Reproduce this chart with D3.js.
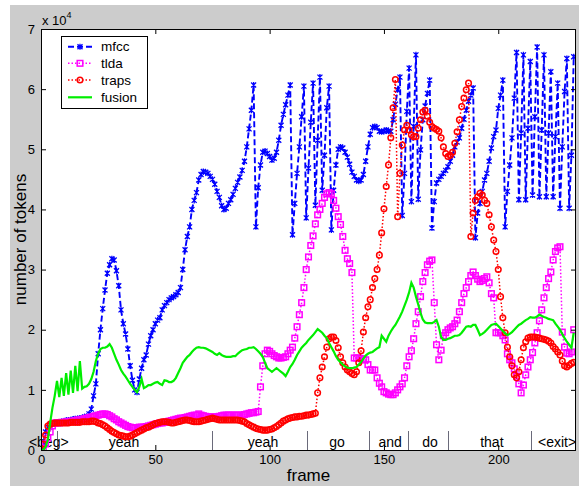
<!DOCTYPE html>
<html>
<head>
<meta charset="utf-8">
<script src="https://cdn.jsdelivr.net/npm/d3@7"></script>
<style>
body { margin: 0; background: #fff; }
svg { display: block; font-family: Arial, "Liberation Sans", sans-serif; }
</style>
</head>
<body>
<svg></svg>
<script>
// token counts per frame, in units of 10^4
var mfcc = [
  0, 0.12, 0.3, 0.38, 0.42, 0.44, 0.45, 0.46, 0.46, 0.47,
  0.48, 0.49, 0.5, 0.5, 0.51, 0.52, 0.52, 0.53, 0.53, 0.55,
  0.56, 0.6, 0.68, 0.9, 1.1, 1.6, 2.0, 2.35, 2.66, 2.94,
  3.08, 3.18, 3.16, 2.98, 2.73, 2.33, 2.1, 1.93, 1.68, 1.4,
  1.16, 1.0, 0.96, 1.18, 1.36, 1.5, 1.58, 1.76, 1.9, 2.0,
  2.1, 2.16, 2.2, 2.33, 2.4, 2.45, 2.5, 2.53, 2.55, 2.58,
  2.62, 2.7, 3.0, 3.33, 3.55, 3.71, 4.0, 4.15, 4.28, 4.49,
  4.58, 4.63, 4.62, 4.6, 4.55, 4.5, 4.42, 4.3, 4.2, 4.06,
  4.0, 4.02, 4.1, 4.16, 4.25, 4.35, 4.45, 4.54, 4.65, 4.8,
  5.04, 5.34, 5.65, 6.07, 3.71, 4.36, 4.74, 4.95, 4.97, 4.93,
  4.88, 4.82, 4.85, 4.95, 5.15, 5.4, 5.58, 5.74, 5.9, 6.07,
  3.58, 4.1, 4.6, 5.04, 5.54, 6.05, 3.86, 4.69, 5.45, 6.1,
  4.07, 5.15, 6.2, 4.32, 4.9, 5.69, 6.05, 3.66, 4.32, 4.74,
  5.0, 5.04, 5.02, 4.95, 4.87, 4.75, 4.62, 4.55, 4.49, 4.47,
  4.49, 4.58, 4.8, 5.04, 5.25, 5.36, 5.38, 5.36, 5.3, 5.29,
  5.3, 5.32, 5.3, 5.3, 5.49, 5.75, 5.99, 6.2, 3.9, 4.6,
  5.63, 6.35, 4.13, 5.38, 6.57, 4.17, 4.99, 5.49, 5.72, 5.93,
  6.15, 3.69, 4.13, 4.44, 4.5, 4.55, 4.6, 4.65, 4.71, 4.8,
  4.9, 5.04, 5.12, 5.19, 5.35, 5.5, 5.65, 5.8, 5.9, 6.02,
  3.53, 3.94, 4.1, 4.3, 4.49, 4.6, 4.8, 5.02, 5.21, 5.32,
  5.68, 5.9, 6.15, 3.71, 4.3, 4.74, 5.19, 5.85, 6.61, 4.16,
  5.27, 6.57, 4.16, 5.35, 6.46, 4.24, 5.54, 6.7, 4.21, 5.32,
  6.57, 4.21, 5.27, 6.29, 4.21, 5.21, 6.1, 4.02, 5.04, 5.96,
  6.51, 4.02, 4.9, 6.54
];
var tlda = [
  0, 0.03, 0.1, 0.2, 0.3, 0.4, 0.45, 0.45, 0.45, 0.46,
  0.46, 0.47, 0.47, 0.48, 0.48, 0.49, 0.5, 0.5, 0.51, 0.52,
  0.53, 0.54, 0.55, 0.56, 0.57, 0.58, 0.59, 0.6, 0.6, 0.59,
  0.57, 0.55, 0.52, 0.5, 0.47, 0.45, 0.43, 0.41, 0.39, 0.38,
  0.37, 0.37, 0.37, 0.38, 0.38, 0.38, 0.39, 0.4, 0.41, 0.42,
  0.43, 0.44, 0.45, 0.45, 0.46, 0.47, 0.48, 0.49, 0.5, 0.51,
  0.52, 0.53, 0.53, 0.54, 0.55, 0.56, 0.57, 0.58, 0.58, 0.6,
  0.58, 0.57, 0.56, 0.55, 0.55, 0.55, 0.55, 0.55, 0.56, 0.57,
  0.58, 0.58, 0.58, 0.58, 0.58, 0.58, 0.58, 0.58, 0.58, 0.59,
  0.6, 0.61, 0.62, 0.62, 0.63, 0.64, 1.05, 1.4, 1.6, 1.66,
  1.64, 1.6, 1.57, 1.55, 1.53, 1.53, 1.54, 1.55, 1.6, 1.66,
  1.71, 1.86, 2.05, 2.25, 2.45, 2.7, 3.0, 3.21, 3.4, 3.56,
  3.76, 3.91, 4.0, 4.1, 4.2, 4.26, 4.28, 4.26, 4.15, 4.02,
  3.88, 3.75, 3.55, 3.32, 3.18, 3.1, 2.95, 1.53, 1.53, 1.53,
  1.52, 1.5, 1.5, 1.42, 1.33, 1.33, 1.33, 1.2, 1.11, 1.05,
  0.97, 0.95, 0.93, 0.92, 0.92, 0.95, 1.0, 1.05, 1.1, 1.2,
  1.4, 1.55, 1.65, 1.85, 2.1, 2.3, 2.55, 2.8, 2.95, 3.08,
  3.14, 3.16, 2.45, 1.75, 1.5, 1.66, 1.9, 1.95, 2.0, 2.03,
  2.05, 2.1, 2.16, 2.3, 2.45, 2.6, 2.7, 2.8, 2.9, 2.96,
  2.9, 2.84, 2.8, 2.82, 2.85, 2.88, 2.78, 2.6, 2.53, 1.95,
  1.95, 1.95, 1.9, 1.83, 1.6, 1.5, 1.45, 1.35, 1.23, 1.1,
  0.95, 1.08, 1.25, 1.38, 1.5, 1.62, 1.78, 1.95, 2.15, 2.33,
  2.53, 2.7, 2.85, 2.96, 3.16, 3.3, 3.36, 3.38, 1.96, 1.71,
  1.61, 1.6, 1.63, 2.0
];
var traps = [
  0, 0.1, 0.25, 0.4, 0.43, 0.44, 0.45, 0.45, 0.45, 0.45,
  0.45, 0.45, 0.45, 0.46, 0.46, 0.46, 0.46, 0.46, 0.47, 0.47,
  0.47, 0.47, 0.48, 0.48, 0.47, 0.45, 0.44, 0.42, 0.4, 0.37,
  0.34, 0.31, 0.29, 0.27, 0.25, 0.24, 0.23, 0.22, 0.22, 0.23,
  0.25, 0.27, 0.29, 0.31, 0.33, 0.35, 0.37, 0.38, 0.4, 0.42,
  0.44, 0.45, 0.46, 0.47, 0.47, 0.47, 0.46, 0.45, 0.45, 0.46,
  0.47, 0.48, 0.49, 0.5, 0.5, 0.49, 0.48, 0.47, 0.47, 0.47,
  0.48, 0.49, 0.5, 0.51, 0.52, 0.53, 0.52, 0.51, 0.5, 0.5,
  0.5, 0.5, 0.5, 0.5, 0.5, 0.5, 0.5, 0.49, 0.48, 0.47,
  0.44, 0.42, 0.4, 0.38, 0.36, 0.35, 0.34, 0.33, 0.33, 0.33,
  0.34, 0.35, 0.37, 0.39, 0.42, 0.45, 0.48, 0.5, 0.52, 0.53,
  0.54, 0.55, 0.55, 0.56, 0.56, 0.57, 0.58, 0.58, 0.59, 0.6,
  0.61, 0.95, 1.2, 1.38, 1.55, 1.71, 1.85, 1.88, 1.88, 1.82,
  1.7, 1.55, 1.45, 1.38, 1.33, 1.3, 1.27, 1.25, 1.3, 1.45,
  1.65, 1.96, 2.2, 2.38, 2.5, 2.7, 2.85, 3.0, 3.24, 3.61,
  4.01, 4.38, 4.74, 5.19, 5.69, 6.16, 3.88, 4.6, 5.07, 5.32,
  5.4, 5.32, 5.24, 5.21, 5.21, 5.35, 5.49, 5.62, 5.65, 5.55,
  5.45, 5.38, 5.35, 5.33, 5.3, 5.19, 5.04, 4.93, 4.88, 4.9,
  4.95, 5.1, 5.29, 5.49, 5.71, 5.85, 5.99, 6.1, 3.55, 3.94,
  4.15, 4.21, 4.27, 4.24, 4.15, 4.1, 3.91, 3.71, 3.49, 3.3,
  3.0, 2.55, 2.2, 1.95, 1.71, 1.55, 1.4, 1.25, 1.2, 1.3,
  1.5, 1.7, 1.8, 1.86, 1.88, 1.88, 1.88, 1.87, 1.86, 1.85,
  1.84, 1.83, 1.81, 1.78, 1.72, 1.68, 1.63, 1.58, 1.48, 1.4,
  1.38, 1.41, 1.44, 1.46
];
var fusion = [
  0, 0, 0.05, 0.17, 0.45, 0.7, 0.9, 1.15, 0.88, 1.2,
  0.9, 1.28, 0.92, 1.32, 0.95, 1.4, 0.98, 1.48, 1.02, 1.05,
  1.06, 1.1, 1.18, 1.3, 1.48, 1.6, 1.68, 1.7, 1.7, 1.72,
  1.76, 1.7, 1.6, 1.5, 1.42, 1.33, 1.27, 1.22, 1.16, 1.1,
  1.05, 1.0, 0.96, 1.05, 1.18, 1.03, 1.05, 1.08, 1.08, 1.1,
  1.12, 1.13, 1.1, 1.08, 1.16, 1.15, 1.13, 1.13, 1.15, 1.2,
  1.28, 1.36, 1.45, 1.5, 1.55, 1.58, 1.63, 1.67, 1.7, 1.71,
  1.7, 1.7, 1.69, 1.67, 1.65, 1.63, 1.6, 1.58, 1.61, 1.58,
  1.56, 1.55, 1.55, 1.55, 1.56, 1.56, 1.6, 1.63, 1.66, 1.67,
  1.68, 1.7, 1.7, 1.71, 1.68, 1.64, 1.6, 1.55, 1.45, 1.36,
  1.33, 1.3, 1.33, 1.36, 1.33, 1.3, 1.27, 1.23, 1.3, 1.38,
  1.43, 1.5, 1.58, 1.64, 1.7, 1.74, 1.78, 1.83, 1.87, 1.91,
  1.96, 2.01, 1.98, 1.95, 1.9, 1.86, 1.78, 1.71, 1.64, 1.56,
  1.5, 1.46, 1.42, 1.39, 1.37, 1.36, 1.36, 1.37, 1.38, 1.42,
  1.46, 1.52, 1.57, 1.6, 1.62, 1.63, 1.66, 1.69, 1.71, 1.9,
  1.85, 1.8, 1.9, 1.97, 2.03, 2.08, 2.15, 2.22, 2.3, 2.4,
  2.5, 2.62, 2.78, 2.7, 2.55, 2.42, 2.28, 2.17, 2.12, 2.11,
  2.11, 2.11, 2.13, 2.16, 2.05, 1.88, 1.83, 1.83, 1.85, 1.86,
  1.88, 1.9, 1.9, 1.91, 1.95, 2.0, 2.05, 2.06, 2.05, 2.08,
  2.08, 2.0, 1.91, 1.93, 1.96, 2.0, 2.04, 2.08, 2.09, 2.1,
  2.06, 2.02, 1.98, 1.94, 1.91, 1.93, 1.96, 2.0, 2.04, 2.08,
  2.1, 2.13, 2.16, 2.18, 2.21, 2.2, 2.2, 2.22, 2.25, 2.23,
  2.21, 2.2, 2.18, 2.17, 2.16, 2.1, 2.05, 2.0, 1.93, 1.86,
  1.8, 1.75, 1.7, 1.95
];

// word segmentation along the bottom
var words = ['<beg>', 'yeah', 'yeah', 'go', 'and', 'do', 'that', '<exit>'];
var wordCenters = [3.4, 36.3, 97.1, 129.5, 152.7, 170.2, 197.2, 225.7];
var wordBounds = [6.9, 74.7, 116.2, 143.6, 160.7, 178.2, 214.3];

var xTicks = [0, 50, 100, 150, 200];
var yTicks = [0, 1, 2, 3, 4, 5, 6, 7];

var width = 579, height = 486;
var pLeft = 41, pRight = 576, pTop = 29, pBottom = 450;

var svg = d3.select('svg')
    .attr('width', width)
    .attr('height', height);

// MATLAB figure grey
svg.append('rect')
    .attr('x', 10).attr('y', 5)
    .attr('width', width - 10).attr('height', height - 5)
    .attr('fill', '#cccccc');

svg.append('rect')
    .attr('x', pLeft).attr('y', pTop)
    .attr('width', pRight - pLeft).attr('height', pBottom - pTop)
    .attr('fill', '#fff');

var x = d3.scaleLinear().domain([0, 234]).range([pLeft, pRight]);
var y = d3.scaleLinear().domain([0, 7]).range([pBottom, pTop]);

svg.append('defs').append('clipPath').attr('id', 'plot')
  .append('rect')
    .attr('x', pLeft).attr('y', pTop)
    .attr('width', pRight - pLeft).attr('height', pBottom - pTop);

// word boundaries and labels
svg.append('g')
    .selectAll('line')
    .data(wordBounds)
    .enter().append('line')
    .attr('x1', function(d) { return Math.round(x(d)) + 0.5; })
    .attr('x2', function(d) { return Math.round(x(d)) + 0.5; })
    .attr('y1', pBottom - 19)
    .attr('y2', pBottom)
    .attr('stroke', '#6a6a7a')
    .attr('stroke-width', 1);

svg.append('g')
    .selectAll('text')
    .data(words)
    .enter().append('text')
    .attr('x', function(d, i) { return x(wordCenters[i]); })
    .attr('y', pBottom - 3)
    .attr('text-anchor', 'middle')
    .attr('font-size', 14)
    .text(function(d) { return d; });

var frames = d3.range(mfcc.length);

var series = [
  { name: 'mfcc', values: mfcc, color: '#0000ff', dash: '6,3', width: 1.9, marker: 'star' },
  { name: 'tlda', values: tlda, color: '#ff00ff', dash: '1.5,2', width: 1.5, marker: 'square' },
  { name: 'traps', values: traps, color: '#ff0000', dash: '1.5,2', width: 1.5, marker: 'circle' },
  { name: 'fusion', values: fusion, color: '#00ee00', dash: null, width: 2.2, marker: null }
];

var line = d3.line()
    .x(function(d) { return x(d[0]); })
    .y(function(d) { return y(d[1]); });

function drawMarker(g, type, color) {
  if (type === 'star') {
    g.append('path')
        .attr('d', 'M-2.5,-2.5L2.5,2.5M-2.5,2.5L2.5,-2.5M0,-3L0,3')
        .attr('stroke', color).attr('stroke-width', 1.3).attr('fill', 'none');
  } else if (type === 'square') {
    g.append('rect')
        .attr('x', -2.8).attr('y', -2.8).attr('width', 5.6).attr('height', 5.6)
        .attr('stroke', color).attr('stroke-width', 1.5).attr('fill', 'none');
  } else if (type === 'circle') {
    g.append('circle')
        .attr('r', 2.8)
        .attr('stroke', color).attr('stroke-width', 1.5).attr('fill', 'none');
  }
}

var plot = svg.append('g').attr('clip-path', 'url(#plot)');

series.forEach(function(s) {
  var pts = frames.map(function(f) { return [f, s.values[f]]; });
  plot.append('path')
      .datum(pts)
      .attr('d', line)
      .attr('fill', 'none')
      .attr('stroke', s.color)
      .attr('stroke-width', s.width)
      .attr('stroke-dasharray', s.dash);
  if (s.marker) {
    plot.append('g')
        .selectAll('g')
        .data(pts)
        .enter().append('g')
        .attr('transform', function(d) { return 'translate(' + x(d[0]) + ',' + y(d[1]) + ')'; })
        .each(function() { drawMarker(d3.select(this), s.marker, s.color); });
  }
});

// axes with inward ticks on all four sides
svg.append('g')
    .attr('transform', 'translate(0,' + pBottom + ')')
    .call(d3.axisBottom(x).tickValues(xTicks).tickFormat(d3.format('d'))
        .tickSize(-5).tickPadding(5).tickSizeOuter(0));
svg.append('g')
    .attr('transform', 'translate(' + pLeft + ',0)')
    .call(d3.axisLeft(y).tickValues(yTicks).tickFormat(d3.format('d'))
        .tickSize(-5).tickPadding(6).tickSizeOuter(0));
svg.append('g')
    .attr('transform', 'translate(0,' + pTop + ')')
    .call(d3.axisTop(x).tickValues(xTicks).tickSize(-5).tickFormat('').tickSizeOuter(0));
svg.append('g')
    .attr('transform', 'translate(' + pRight + ',0)')
    .call(d3.axisRight(y).tickValues(yTicks).tickSize(-5).tickFormat('').tickSizeOuter(0));

svg.selectAll('.domain').remove();
svg.selectAll('.tick text')
    .attr('font-size', 13)
    .attr('font-family', 'Arial, "Liberation Sans", sans-serif')
    .attr('fill', '#000');
svg.selectAll('.tick line').attr('stroke', '#000');

svg.append('rect')
    .attr('x', pLeft + 0.5).attr('y', pTop + 0.5)
    .attr('width', pRight - pLeft - 1).attr('height', pBottom - pTop)
    .attr('fill', 'none')
    .attr('stroke', '#000');

// exponent label
var expo = svg.append('text')
    .attr('x', 42).attr('y', 25)
    .attr('font-size', 13)
    .text('x 10');
expo.append('tspan')
    .attr('dy', -7)
    .attr('font-size', 9)
    .text('4');

svg.append('text')
    .attr('x', (pLeft + pRight) / 2)
    .attr('y', 481)
    .attr('text-anchor', 'middle')
    .attr('font-size', 17)
    .text('frame');

svg.append('text')
    .attr('transform', 'translate(26,' + ((pTop + pBottom) / 2) + ') rotate(-90)')
    .attr('text-anchor', 'middle')
    .attr('font-size', 17)
    .text('number of tokens');

// legend
var legend = svg.append('g');
legend.append('rect')
    .attr('x', 61.5).attr('y', 36.5)
    .attr('width', 86).attr('height', 72)
    .attr('fill', '#fff')
    .attr('stroke', '#000');

var legendY = [46.7, 63.3, 80, 97.3];
series.forEach(function(s, i) {
  var row = legend.append('g').attr('transform', 'translate(0,' + legendY[i] + ')');
  row.append('line')
      .attr('x1', 68).attr('x2', 92)
      .attr('stroke', s.color)
      .attr('stroke-width', s.width)
      .attr('stroke-dasharray', s.dash);
  if (s.marker) {
    drawMarker(row.append('g').attr('transform', 'translate(80,0)'), s.marker, s.color);
  }
  row.append('text')
      .attr('x', 101).attr('dy', '0.35em')
      .attr('font-size', 13.5)
      .text(s.name);
});
</script>
</body>
</html>
